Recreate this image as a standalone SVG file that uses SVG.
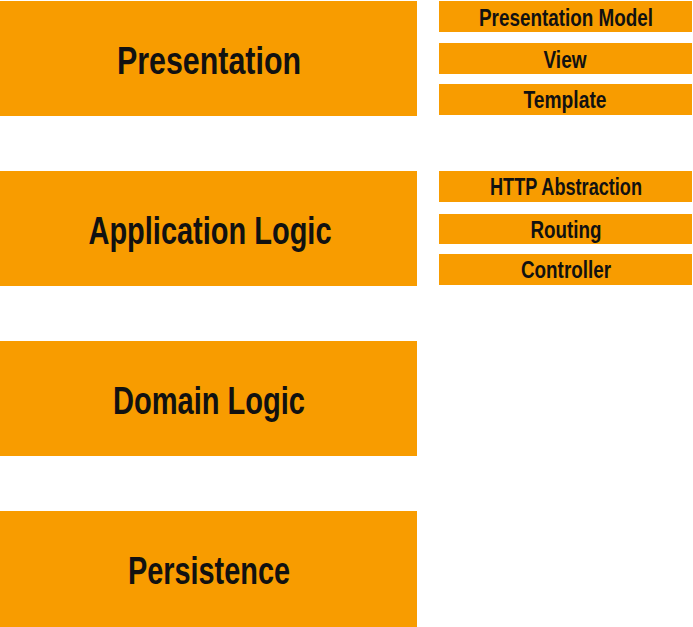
<svg xmlns="http://www.w3.org/2000/svg" width="693" height="627" viewBox="0 0 693 627">
  <style>
    .box { fill: #F89C00; }
    .lbl { font-family: "Liberation Sans", Arial, sans-serif; font-weight: bold; fill: #111111; text-anchor: middle; }
    .big { font-size: 39px; }
    .small { font-size: 23px; }
  </style>
  <rect width="693" height="627" fill="#ffffff"/>

  <!-- layers -->
  <g id="presentation">
    <rect class="box" x="0" y="1" width="417" height="115"/>
    <text class="lbl big" x="209" y="74" textLength="184" lengthAdjust="spacingAndGlyphs">Presentation</text>
  </g>
  <g id="application-logic">
    <rect class="box" x="0" y="171" width="417" height="115"/>
    <text class="lbl big" x="210" y="244" textLength="243" lengthAdjust="spacingAndGlyphs">Application Logic</text>
  </g>
  <g id="domain-logic">
    <rect class="box" x="0" y="341" width="417" height="115"/>
    <text class="lbl big" x="209" y="414" textLength="192" lengthAdjust="spacingAndGlyphs">Domain Logic</text>
  </g>
  <g id="persistence">
    <rect class="box" x="0" y="511" width="417" height="116"/>
    <text class="lbl big" x="209" y="584" textLength="162" lengthAdjust="spacingAndGlyphs">Persistence</text>
  </g>

  <!-- presentation parts -->
  <g id="presentation-model">
    <rect class="box" x="439" y="1" width="253" height="31"/>
    <text class="lbl small" x="566" y="26" textLength="174" lengthAdjust="spacingAndGlyphs">Presentation Model</text>
  </g>
  <g id="view">
    <rect class="box" x="439" y="43" width="253" height="31"/>
    <text class="lbl small" x="565" y="68" textLength="43" lengthAdjust="spacingAndGlyphs">View</text>
  </g>
  <g id="template">
    <rect class="box" x="439" y="84" width="253" height="31"/>
    <text class="lbl small" x="565" y="108" textLength="83" lengthAdjust="spacingAndGlyphs">Template</text>
  </g>

  <!-- application logic parts -->
  <g id="http-abstraction">
    <rect class="box" x="439" y="171" width="253" height="31"/>
    <text class="lbl small" x="566" y="195" textLength="152" lengthAdjust="spacingAndGlyphs">HTTP Abstraction</text>
  </g>
  <g id="routing">
    <rect class="box" x="439" y="214" width="253" height="30"/>
    <text class="lbl small" x="566" y="238" textLength="71" lengthAdjust="spacingAndGlyphs">Routing</text>
  </g>
  <g id="controller">
    <rect class="box" x="439" y="254" width="253" height="31"/>
    <text class="lbl small" x="566" y="278" textLength="90" lengthAdjust="spacingAndGlyphs">Controller</text>
  </g>

  <g id="connectors"/>
</svg>
